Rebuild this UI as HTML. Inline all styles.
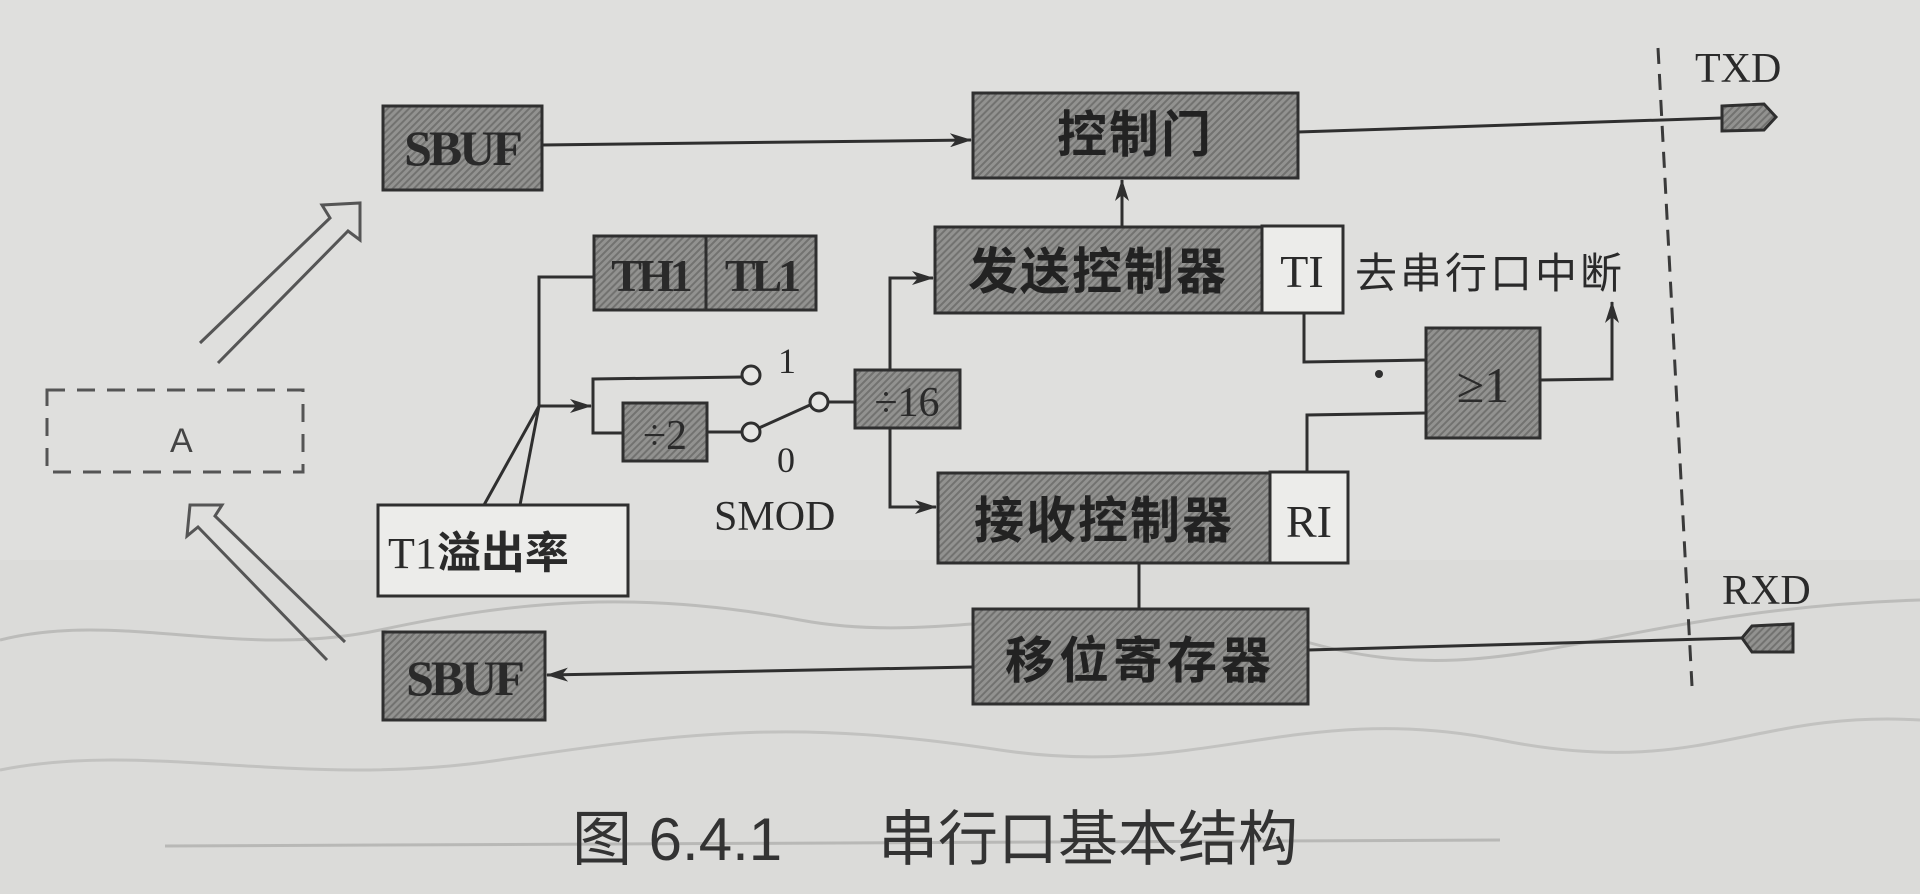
<!DOCTYPE html>
<html><head><meta charset="utf-8"><style>
html,body{margin:0;padding:0;background:#dededc;}
svg{display:block}
.cn{font-family:"Liberation Sans","Noto Sans CJK SC",sans-serif;font-weight:bold;fill:#222}
.sr{font-family:"Liberation Serif","Noto Serif CJK SC",serif;fill:#2a2a2a}
</style></head><body>
<svg width="1920" height="894" viewBox="0 0 1920 894" xmlns="http://www.w3.org/2000/svg">
<defs>
<pattern id="h" width="5" height="5" patternUnits="userSpaceOnUse" patternTransform="rotate(45)">
<rect width="5" height="5" fill="#929290"/><rect width="2" height="5" fill="#727270"/></pattern>
<marker id="b" markerWidth="22" markerHeight="14" refX="21" refY="7" orient="auto" markerUnits="userSpaceOnUse"><path d="M0,0 L22,7 L0,14 L6,7z" fill="#2f2f2f"/></marker>
</defs>
<rect width="1920" height="894" fill="#dfdfdd"/>
<rect x="0" y="560" width="1920" height="334" fill="#dbdbd9"/>
<path d="M0,640 C120,610 240,660 380,630 S640,590 800,620 S1100,580 1300,640 S1600,610 1920,600" stroke="#bcbcba" stroke-width="3" fill="none"/>
<path d="M0,770 C150,740 300,790 500,760 S800,720 1000,750 S1300,700 1500,740 S1750,710 1920,720" stroke="#c2c2c0" stroke-width="3" fill="none"/>
<line x1="165" y1="846" x2="1500" y2="840" stroke="#b8b8b6" stroke-width="3"/>

<g stroke="#2f2f2f" stroke-width="3" fill="none">
<line x1="542" y1="145" x2="971" y2="140" marker-end="url(#b)"/>
<line x1="1298" y1="132" x2="1722" y2="118"/>
<line x1="1122" y1="227" x2="1122" y2="180" marker-end="url(#b)"/>
<polyline points="594,277 539,277 539,406"/>
<polyline points="484,505 539,406 520,505"/>
<line x1="539" y1="406" x2="591" y2="406" marker-end="url(#b)"/>
<polyline points="743,377 593,379 593,433 623,433"/>
<line x1="707" y1="432" x2="741" y2="432"/>
<line x1="759" y1="428" x2="810" y2="405"/>
<line x1="829" y1="402" x2="855" y2="402"/>
<polyline points="890,370 890,278 933,278" marker-end="url(#b)"/>
<polyline points="890,428 890,507 936,507" marker-end="url(#b)"/>
<polyline points="1304,313 1304,362 1426,360"/>
<polyline points="1307,473 1307,415 1426,413"/>
<polyline points="1540,380 1612,379 1612,302" marker-end="url(#b)"/>
<line x1="1139" y1="563" x2="1139" y2="609"/>
<line x1="973" y1="667" x2="547" y2="675" marker-end="url(#b)"/>
<line x1="1308" y1="650" x2="1742" y2="638"/>
</g>
<circle cx="1379" cy="374" r="4" fill="#2f2f2f"/>
<g fill="#e6e6e4" stroke="#2f2f2f" stroke-width="3">
<circle cx="751" cy="375" r="9"/><circle cx="751" cy="432" r="9"/><circle cx="819" cy="402" r="9"/>
</g>
<line x1="1658" y1="48" x2="1692" y2="686" stroke="#3a3a3a" stroke-width="3" stroke-dasharray="16,10"/>

<path d="M200,343 L330,218 L322,205 L360,203 L360,240 L348,231 L218,363" fill="none" stroke="#555" stroke-width="3"/>
<path d="M345,642 L215,516 L222,505 L190,505 L187,536 L198,527 L327,660" fill="none" stroke="#555" stroke-width="3"/>

<g stroke="#2f2f2f" stroke-width="3">
<rect x="383" y="106" width="159" height="84" fill="url(#h)"/>
<rect x="383" y="632" width="162" height="88" fill="url(#h)"/>
<rect x="594" y="236" width="222" height="74" fill="url(#h)"/>
<line x1="706" y1="236" x2="706" y2="310"/>
<rect x="623" y="403" width="84" height="58" fill="url(#h)"/>
<rect x="855" y="370" width="105" height="58" fill="url(#h)"/>
<rect x="973" y="93" width="325" height="85" fill="url(#h)"/>
<rect x="935" y="227" width="327" height="86" fill="url(#h)"/>
<rect x="1262" y="226" width="81" height="87" fill="#ececea"/>
<rect x="938" y="473" width="332" height="90" fill="url(#h)"/>
<rect x="1270" y="472" width="78" height="91" fill="#ececea"/>
<rect x="973" y="609" width="335" height="95" fill="url(#h)"/>
<rect x="1426" y="328" width="114" height="110" fill="url(#h)"/>
<rect x="378" y="505" width="250" height="91" fill="#ececea"/>
<path d="M1722,106 L1764,104 L1776,117 L1764,130 L1722,131z" fill="url(#h)"/>
<path d="M1742,638 L1752,626 L1793,624 L1793,652 L1752,652z" fill="url(#h)"/>
</g>
<rect x="47" y="390" width="256" height="82" fill="none" stroke="#555" stroke-width="3" stroke-dasharray="18,12"/>

<g class="sr">
<text x="462" y="165" font-size="50" text-anchor="middle" font-weight="bold" letter-spacing="-3">SBUF</text>
<text x="464" y="695" font-size="50" text-anchor="middle" font-weight="bold" letter-spacing="-3">SBUF</text>
<text x="650" y="291" font-size="46" text-anchor="middle" letter-spacing="-4" font-weight="bold">TH1</text>
<text x="761" y="291" font-size="46" text-anchor="middle" letter-spacing="-4" font-weight="bold">TL1</text>
<text x="665" y="449" font-size="42" text-anchor="middle">÷2</text>
<text x="907" y="416" font-size="42" text-anchor="middle">÷16</text>
<text x="778" y="373" font-size="36">1</text>
<text x="777" y="472" font-size="36">0</text>
<text x="714" y="530" font-size="42">SMOD</text>
<text x="1302" y="287" font-size="46" text-anchor="middle">TI</text>
<text x="1309" y="537" font-size="46" text-anchor="middle">RI</text>
<text x="1483" y="402" font-size="50" text-anchor="middle">≥1</text>
<text x="1695" y="82" font-size="42">TXD</text>
<text x="1722" y="604" font-size="42">RXD</text>
<text x="170" y="452" font-size="34" font-family="Liberation Sans" fill="#444">A</text>
</g>
<text x="388" y="568" font-size="44" class="sr">T1<tspan font-family="Noto Sans CJK SC" font-weight="bold">溢出率</tspan></text>
<g class="cn">
<text x="1135" y="152" font-size="50" text-anchor="middle" letter-spacing="2">控制门</text>
<text x="1098" y="289" font-size="50" text-anchor="middle" letter-spacing="2">发送控制器</text>
<text x="1104" y="538" font-size="50" text-anchor="middle" letter-spacing="2">接收控制器</text>
<text x="1140" y="678" font-size="50" text-anchor="middle" letter-spacing="4">移位寄存器</text>
</g>
<text x="1355" y="288" font-size="42" font-family="Noto Sans CJK SC,sans-serif" fill="#2a2a2a" letter-spacing="3">去串行口中断</text>
<text x="572" y="860" font-size="60" font-family="Liberation Sans,Noto Sans CJK SC,sans-serif" fill="#333">图 6.4.1<tspan x="878">串行口基本结构</tspan></text>
</svg>
</body></html>
